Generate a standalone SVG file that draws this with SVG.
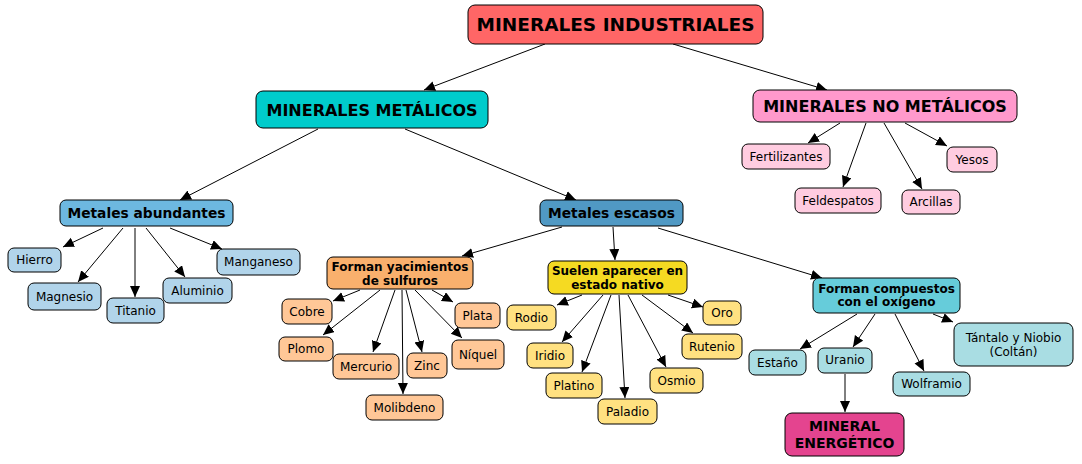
<svg xmlns="http://www.w3.org/2000/svg" width="1082" height="464" viewBox="0 0 1082 464">
<defs>
<marker id="arr" markerUnits="userSpaceOnUse" markerWidth="12" markerHeight="11" refX="11" refY="5" orient="auto">
<path d="M0,0 L11,5 L0,10 z" fill="#000"/>
</marker>
<style>
.n rect{stroke:#000;stroke-width:1}
text{font-family:"DejaVu Sans","Liberation Sans",sans-serif;text-anchor:middle;dominant-baseline:central;fill:#000}
.b{font-weight:bold}
.s12{font-size:12px}
.c line{stroke:#000;stroke-width:1;marker-end:url(#arr)}
.title{fill:#FF6666}.met{fill:#00CCCC}.nomet{fill:#FF99CC}
.abund{fill:#6DB8E0}.esc{fill:#5099C4}.lb{fill:#B1D4EA}
.sulf{fill:#F9B06D}.lo{fill:#FFC797}
.nat{fill:#F5DA22}.ly{fill:#FFE181}
.oxi{fill:#66CCDA}.lc{fill:#A9DDE3}
.energ{fill:#E4448F}.lp{fill:#FFCCE0}
</style>
</defs>
<rect x="0" y="0" width="1082" height="464" fill="#fff"/>
<g id="connectors" class="c">
<line x1="545" y1="44" x2="424" y2="90"/>
<line x1="673" y1="44" x2="827" y2="90"/>
<line x1="318" y1="129" x2="180" y2="200"/>
<line x1="405" y1="129" x2="576" y2="200"/>
<line x1="840" y1="123" x2="808" y2="143"/>
<line x1="866" y1="123" x2="843" y2="187"/>
<line x1="884" y1="123" x2="922" y2="189"/>
<line x1="905" y1="123" x2="947" y2="146"/>
<line x1="103" y1="228" x2="63" y2="247"/>
<line x1="123" y1="228" x2="78" y2="282"/>
<line x1="135" y1="228" x2="135" y2="297"/>
<line x1="146" y1="228" x2="185" y2="277"/>
<line x1="170" y1="228" x2="222" y2="249"/>
<line x1="562" y1="227" x2="462" y2="256"/>
<line x1="613" y1="227" x2="615" y2="260"/>
<line x1="658" y1="228" x2="822" y2="278"/>
<line x1="360" y1="290" x2="333" y2="301"/>
<line x1="380" y1="290" x2="323" y2="335"/>
<line x1="395" y1="290" x2="373" y2="352"/>
<line x1="402" y1="290" x2="403" y2="394"/>
<line x1="406" y1="290" x2="422" y2="352"/>
<line x1="415" y1="290" x2="462" y2="338"/>
<line x1="432" y1="290" x2="453" y2="302"/>
<line x1="582" y1="295" x2="557" y2="305"/>
<line x1="603" y1="295" x2="562" y2="342"/>
<line x1="611" y1="295" x2="582" y2="372"/>
<line x1="619" y1="295" x2="625" y2="398"/>
<line x1="628" y1="295" x2="666" y2="367"/>
<line x1="642" y1="295" x2="693" y2="333"/>
<line x1="668" y1="295" x2="703" y2="307"/>
<line x1="857" y1="314" x2="800" y2="349"/>
<line x1="875" y1="314" x2="853" y2="347"/>
<line x1="895" y1="314" x2="924" y2="371"/>
<line x1="933" y1="314" x2="953" y2="322"/>
<line x1="845" y1="374" x2="845" y2="412"/>
</g>
<g class="n">
<g id="n-industriales"><rect class="title" x="468" y="5" width="295" height="39" rx="7"/><text class="b" x="615.5" y="24.5" font-size="18.5">MINERALES INDUSTRIALES</text></g>
<g id="n-metalicos"><rect class="met" x="256" y="91" width="232" height="37" rx="7"/><text class="b" x="372" y="110" font-size="16">MINERALES METÁLICOS</text></g>
<g id="n-nometalicos"><rect class="nomet" x="753" y="90" width="264" height="32" rx="7"/><text class="b" x="885" y="106.5" font-size="16">MINERALES NO METÁLICOS</text></g>
<g id="n-fertilizantes"><rect class="lp" x="742" y="144" width="88" height="25" rx="6"/><text class="s12" x="786" y="156.5">Fertilizantes</text></g>
<g id="n-feldespatos"><rect class="lp" x="795" y="188" width="86" height="25" rx="6"/><text class="s12" x="838" y="200.5">Feldespatos</text></g>
<g id="n-arcillas"><rect class="lp" x="902" y="190" width="58" height="24" rx="6"/><text class="s12" x="931" y="202">Arcillas</text></g>
<g id="n-yesos"><rect class="lp" x="947" y="147" width="50" height="25" rx="6"/><text class="s12" x="972" y="159.5">Yesos</text></g>
<g id="n-abundantes"><rect class="abund" x="60" y="200" width="173" height="26" rx="6"/><text class="b" x="146.5" y="213" font-size="13.8">Metales abundantes</text></g>
<g id="n-escasos"><rect class="esc" x="540" y="200" width="143" height="26" rx="6"/><text class="b" x="611.5" y="213" font-size="13.8">Metales escasos</text></g>
<g id="n-hierro"><rect class="lb" x="8" y="248" width="53" height="24" rx="6"/><text class="s12" x="34.5" y="260">Hierro</text></g>
<g id="n-magnesio"><rect class="lb" x="28" y="283" width="73" height="27" rx="6"/><text class="s12" x="64.5" y="296.5">Magnesio</text></g>
<g id="n-titanio"><rect class="lb" x="107" y="298" width="57" height="25" rx="6"/><text class="s12" x="135.5" y="310.5">Titanio</text></g>
<g id="n-aluminio"><rect class="lb" x="163" y="278" width="69" height="25" rx="6"/><text class="s12" x="197.5" y="290.5">Aluminio</text></g>
<g id="n-manganeso"><rect class="lb" x="217" y="249" width="83" height="26" rx="6"/><text class="s12" x="258.5" y="262">Manganeso</text></g>
<g id="n-sulfuros"><rect class="sulf" x="327" y="257" width="146" height="32" rx="6"/><text class="b s12" x="400" y="266.5">Forman yacimientos</text><text class="b s12" x="400" y="280.5">de sulfuros</text></g>
<g id="n-cobre"><rect class="lo" x="282" y="299" width="50" height="25" rx="6"/><text class="s12" x="307" y="311.5">Cobre</text></g>
<g id="n-plomo"><rect class="lo" x="279" y="337" width="54" height="24" rx="6"/><text class="s12" x="306" y="349">Plomo</text></g>
<g id="n-mercurio"><rect class="lo" x="333" y="354" width="66" height="25" rx="6"/><text class="s12" x="366" y="366.5">Mercurio</text></g>
<g id="n-molibdeno"><rect class="lo" x="366" y="395" width="77" height="25" rx="6"/><text class="s12" x="404.5" y="407.5">Molibdeno</text></g>
<g id="n-zinc"><rect class="lo" x="407" y="353" width="40" height="25" rx="6"/><text class="s12" x="427" y="365.5">Zinc</text></g>
<g id="n-plata"><rect class="lo" x="455" y="303" width="45" height="25" rx="6"/><text class="s12" x="477.5" y="315.5">Plata</text></g>
<g id="n-niquel"><rect class="lo" x="452" y="340" width="52" height="29" rx="6"/><text class="s12" x="478" y="354.5">Níquel</text></g>
<g id="n-nativo"><rect class="nat" x="548" y="261" width="139" height="33" rx="6"/><text class="b s12" x="617.5" y="270.5">Suelen aparecer en</text><text class="b s12" x="617.5" y="284.5">estado nativo</text></g>
<g id="n-rodio"><rect class="ly" x="507" y="305" width="49" height="25" rx="6"/><text class="s12" x="531.5" y="317.5">Rodio</text></g>
<g id="n-iridio"><rect class="ly" x="527" y="343" width="46" height="25" rx="6"/><text class="s12" x="550" y="355.5">Iridio</text></g>
<g id="n-platino"><rect class="ly" x="546" y="373" width="56" height="25" rx="6"/><text class="s12" x="574" y="385.5">Platino</text></g>
<g id="n-paladio"><rect class="ly" x="598" y="399" width="59" height="25" rx="6"/><text class="s12" x="627.5" y="411.5">Paladio</text></g>
<g id="n-osmio"><rect class="ly" x="650" y="368" width="53" height="25" rx="6"/><text class="s12" x="676.5" y="380.5">Osmio</text></g>
<g id="n-rutenio"><rect class="ly" x="682" y="334" width="60" height="25" rx="6"/><text class="s12" x="712" y="346.5">Rutenio</text></g>
<g id="n-oro"><rect class="ly" x="703" y="301" width="38" height="24" rx="6"/><text class="s12" x="722" y="313">Oro</text></g>
<g id="n-oxigeno"><rect class="oxi" x="813" y="278" width="147" height="35" rx="6"/><text class="b s12" x="886.5" y="288.5">Forman compuestos</text><text class="b s12" x="886.5" y="302">con el oxígeno</text></g>
<g id="n-estano"><rect class="lc" x="749" y="350" width="57" height="25" rx="6"/><text class="s12" x="777.5" y="362.5">Estaño</text></g>
<g id="n-uranio"><rect class="lc" x="818" y="348" width="54" height="25" rx="6"/><text class="s12" x="845" y="360">Uranio</text></g>
<g id="n-wolframio"><rect class="lc" x="893" y="372" width="77" height="24" rx="6"/><text class="s12" x="931.5" y="384">Wolframio</text></g>
<g id="n-tantalo"><rect class="lc" x="954" y="323" width="119" height="43" rx="7"/><text class="s12" x="1013.5" y="337.5">Tántalo y Niobio</text><text class="s12" x="1013.5" y="352">(Coltán)</text></g>
<g id="n-energetico"><rect class="energ" x="785" y="413" width="119" height="43" rx="7"/><text class="b" x="844.5" y="426" font-size="14">MINERAL</text><text class="b" x="844.5" y="443" font-size="14">ENERGÉTICO</text></g>
</g>
</svg>
